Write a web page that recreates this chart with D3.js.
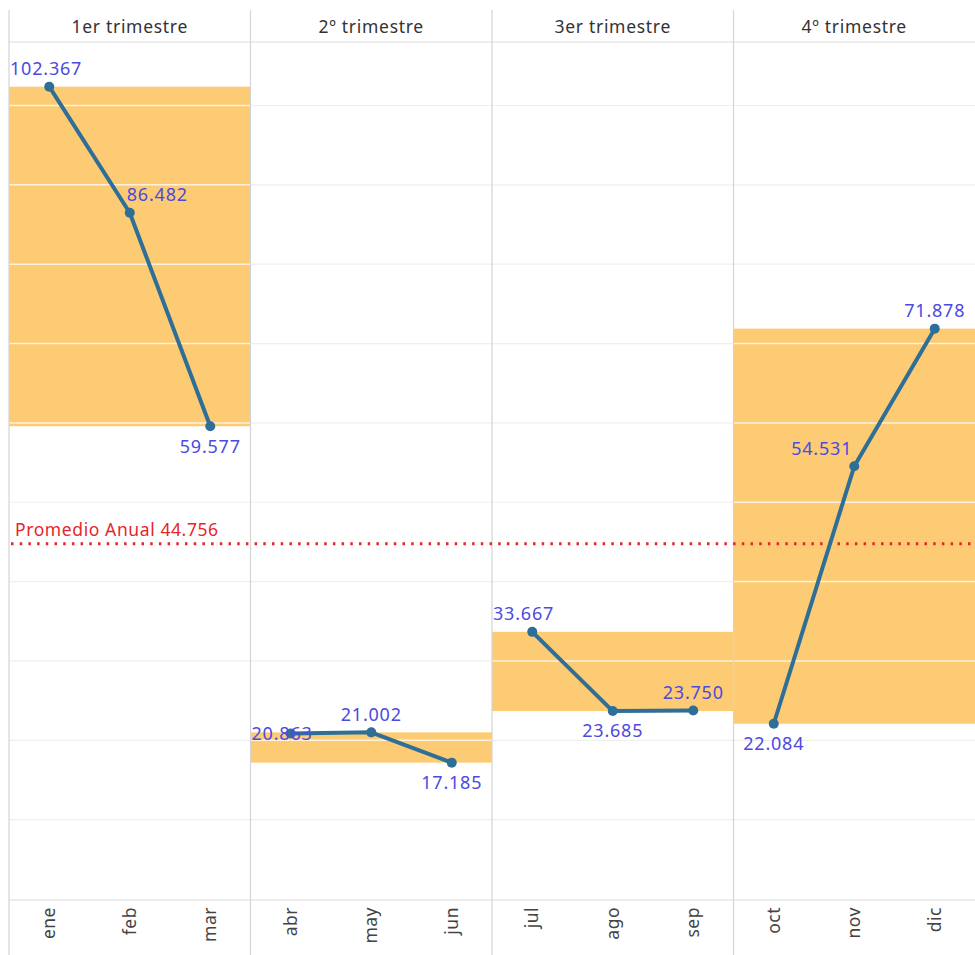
<!DOCTYPE html>
<html>
<head>
<meta charset="utf-8">
<script src="https://cdn.jsdelivr.net/npm/d3@7"></script>
<style>
  html, body { margin: 0; padding: 0; background: #fff; }
  svg { display: block; font-family: "Noto Sans", sans-serif; }
</style>
</head>
<body>
<svg id="chart" width="975" height="955"></svg>
<script>
// ---- data ----
const quarters = ["1er trimestre", "2º trimestre", "3er trimestre", "4º trimestre"];
const months = ["ene", "feb", "mar", "abr", "may", "jun", "jul", "ago", "sep", "oct", "nov", "dic"];
const monthQuarter = [0, 0, 0, 1, 1, 1, 2, 2, 2, 3, 3, 3];
const sales = [102367, 86482, 59577, 20863, 21002, 17185, 33667, 23685, 23750, 22084, 54531, 71878];
const annualAverage = 44756;
const yTicks = [0, 10000, 20000, 30000, 40000, 50000, 60000, 70000, 80000, 90000, 100000];
const yMax = 108000;

(function () {
// ---- layout ----
const W = 975, H = 955;
const mLeft = 9, mRight = 975, mTop = 10, headerBottom = 42, plotBottom = 899;
const svg = d3.select("#chart");

const es = d3.formatLocale({decimal: ",", thousands: ".", grouping: [3], currency: ["€", ""]});
const fmt = es.format(",d");

const xq = d3.scaleBand().domain(quarters).range([mLeft, mRight]).padding(0);
const y = d3.scaleLinear().domain([0, yMax]).range([plotBottom, headerBottom]);

const data = months.map((m, i) => ({month: m, q: quarters[monthQuarter[i]], value: sales[i], i}));
const xm = {};
quarters.forEach(q => {
  xm[q] = d3.scaleBand().domain(data.filter(d => d.q === q).map(d => d.month))
    .range([xq(q), xq(q) + xq.bandwidth()]).padding(0);
});
const px = d => xm[d.q](d.month) + xm[d.q].bandwidth() / 2;
const py = d => y(d.value);

// gridlines (under bands)
svg.append("g").selectAll("line").data(yTicks.slice(1)).join("line")
  .attr("x1", mLeft).attr("x2", mRight)
  .attr("y1", d => y(d)).attr("y2", d => y(d))
  .attr("stroke", "#efefef").attr("stroke-width", 1.2);

// quarter bands (min..max)
const bands = quarters.map(q => {
  const vals = data.filter(d => d.q === q).map(d => d.value);
  return {q, min: d3.min(vals), max: d3.max(vals)};
});
svg.append("g").selectAll("rect").data(bands).join("rect")
  .attr("x", d => xq(d.q)).attr("width", xq.bandwidth())
  .attr("y", d => y(d.max)).attr("height", d => y(d.min) - y(d.max))
  .attr("fill", "#fdcb73");

// gridlines over bands (lighter)
svg.append("g").selectAll("g").data(bands).join("g").each(function(b) {
  d3.select(this).selectAll("line")
    .data(yTicks.slice(1).filter(t => t > b.min && t < b.max)).join("line")
    .attr("x1", xq(b.q)).attr("x2", xq(b.q) + xq.bandwidth())
    .attr("y1", d => y(d)).attr("y2", d => y(d))
    .attr("stroke", "#fff").attr("stroke-opacity", 0.75).attr("stroke-width", 1.5);
});

// panel frame
svg.append("line").attr("x1", mLeft).attr("x2", mRight).attr("y1", headerBottom).attr("y2", headerBottom)
  .attr("stroke", "#dcdcdc").attr("stroke-width", 1.2);
svg.append("line").attr("x1", mLeft).attr("x2", mRight).attr("y1", y(0) + 1).attr("y2", y(0) + 1)
  .attr("stroke", "#dcdcdc").attr("stroke-width", 1.2);
svg.append("g").selectAll("line").data(quarters).join("line")
  .attr("x1", d => xq(d)).attr("x2", d => xq(d))
  .attr("y1", mTop).attr("y2", H)
  .attr("stroke", "#d4d4d4").attr("stroke-width", 1.2);

// headers
svg.append("g").selectAll("text").data(quarters).join("text")
  .attr("x", d => xq(d) + xq.bandwidth() / 2).attr("y", 27)
  .attr("text-anchor", "middle").attr("dy", "0.35em")
  .attr("font-size", 17.5).attr("letter-spacing", 0.7).attr("fill", "#333")
  .text(d => d);

// month axis labels
svg.append("g").selectAll("text").data(data).join("text")
  .attr("transform", d => `translate(${px(d)},${y(0) + 8}) rotate(-90)`)
  .attr("text-anchor", "end").attr("dy", "0.35em")
  .attr("font-size", 17.5).attr("letter-spacing", 0.5).attr("fill", "#444")
  .text(d => d.month);

// average line
svg.append("line").attr("x1", mLeft + 2).attr("x2", mRight)
  .attr("y1", y(annualAverage)).attr("y2", y(annualAverage))
  .attr("stroke", "#e6262b").attr("stroke-width", 3)
  .attr("stroke-dasharray", "2.5,6.2").attr("stroke-linecap", "butt");
svg.append("text").attr("x", 15).attr("y", y(annualAverage) - 14).attr("dy", "0.35em")
  .attr("font-size", 17.5).attr("letter-spacing", 0.6).attr("fill", "#e6262b")
  .text("Promedio Anual " + fmt(annualAverage));

// lines per quarter
const line = d3.line().x(px).y(py);
quarters.forEach(q => {
  svg.append("path").datum(data.filter(d => d.q === q))
    .attr("d", line).attr("fill", "none")
    .attr("stroke", "#2f6f97").attr("stroke-width", 4).attr("stroke-linejoin", "round");
});
svg.append("g").selectAll("circle").data(data).join("circle")
  .attr("cx", px).attr("cy", py).attr("r", 5).attr("fill", "#2f6f97");

// value labels
const place = ["aboveStart", "aboveRight", "below", "middleStart", "above", "below",
               "aboveStart", "below", "above", "below", "aboveLeft", "above"];
svg.append("g").selectAll("text").data(data).join("text")
  .attr("font-size", 18).attr("letter-spacing", 0.8).attr("fill", "#4b4ae0")
  .attr("dy", "0.35em")
  .each(function(d) {
    const p = place[d.i];
    const t = d3.select(this);
    let x = px(d), yy = py(d), anchor = "middle";
    const qx0 = xq(d.q), qx1 = qx0 + xq.bandwidth();
    if (p === "above") { yy -= 18; }
    else if (p === "below") { yy += 20; }
    else if (p === "aboveStart") { yy -= 18; x = qx0 + 1; anchor = "start"; }
    else if (p === "aboveRight") { yy -= 18; x -= 3; anchor = "start"; }
    else if (p === "aboveLeft") { yy -= 18; x -= 2; anchor = "end"; }
    else if (p === "middleStart") { x = qx0 + 1; anchor = "start"; }
    t.attr("x", x).attr("y", yy).attr("text-anchor", anchor).text(fmt(d.value));
    // keep inside the panel
    const bb = this.getBBox();
    if (bb.x + bb.width > qx1 - 2) t.attr("x", x - (bb.x + bb.width - (qx1 - 2)));
    if (bb.x < qx0 + 1) t.attr("x", x + (qx0 + 1 - bb.x));
  });
})();
</script>
</body>
</html>
